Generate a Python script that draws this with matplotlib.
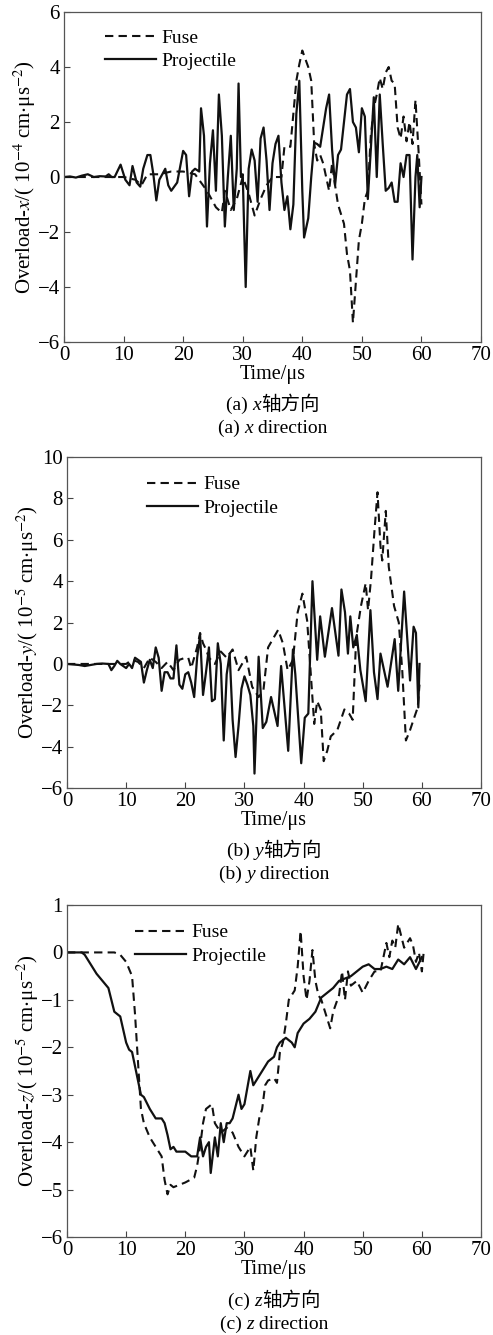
import matplotlib
matplotlib.use("Agg")
import matplotlib.pyplot as plt
from matplotlib.offsetbox import TextArea, HPacker, AnchoredOffsetbox
import numpy as np

plt.rcParams['font.family'] = ['Liberation Serif', 'Noto Sans CJK SC']
plt.rcParams['mathtext.fontset'] = 'stix'

# time (us), overload
a_proj = np.array([
    (0, 0), (1, 0.02), (2, -0.02), (3, 0.05), (4, 0.1), (5, 0), (6, 0.03), (7, 0.02), (7.5, 0.1),
    (8, 0), (8.5, 0), (9.5, 0.45), (10.3, -0.1), (11, -0.3), (11.5, 0.4), (12.2, -0.2), (12.8, -0.35),
    (13.3, 0.3), (14, 0.8), (14.5, 0.8), (15, 0.1), (15.5, -0.85), (16, -0.1), (17, 0.3), (17.5, -0.3),
    (18, -0.5), (19, -0.2), (20, 0.95), (20.5, 0.8), (21, -0.7), (21.5, 0.2), (22, 0.3), (22.7, 0.2),
    (23, 2.5), (23.5, 1.5), (24, -1.8), (24.5, 0.5), (25, 1.7), (25.5, -0.5), (26, 3.0), (26.5, 1.5),
    (27, -1.8), (27.5, 0.0), (28, 1.5), (28.5, -1.2), (29, 0.3), (29.3, 3.4), (29.7, 0.0), (30, 0.1),
    (30.5, -4.0), (31, 0.3), (31.5, 1.0), (32, 0.6), (32.5, -0.9), (33, 1.4), (33.5, 1.8), (34, 0.6),
    (34.5, -1.2), (35, 0.5), (35.5, 1.2), (36, 1.5), (36.5, -0.2), (37, -1.2), (37.5, -0.7), (38, -1.9),
    (38.5, -1.0), (39, 2.3), (39.5, 3.5), (40, -0.5), (40.3, -2.2), (41, -1.5), (41.5, 0.0), (42, 1.25),
    (42.5, 1.2), (43, 1.1), (44, 2.5), (44.5, 3.0), (45, 1.0), (45.5, -0.3), (46, 0.8), (46.5, 1.0),
    (47, 2.0), (47.5, 3.0), (48, 3.2), (48.5, 2.0), (49, 1.8), (49.5, 0.9), (50, 2.5), (50.5, 2.2),
    (51, -0.8), (51.5, 1.0), (52, 2.9), (52.5, 0.0), (53, 3.0), (53.5, 1.2), (54, -0.5), (54.5, -0.4),
    (55, -0.2), (55.5, -0.9), (56, -0.9), (56.5, 0.5), (57, 0.0), (57.5, 0.8), (58, 0.8), (58.5, -3.0),
    (59, 0.0), (59.3, 0.8), (59.7, -1.1), (60, 0.0)])
a_fuse = np.array([
    (0, 0), (5, 0), (10, 0), (12, -0.1), (13, -0.3), (14, 0.1), (16, 0.1), (18, 0.2), (20, 0.2),
    (22, 0.1), (23, -0.2), (24, -0.5), (25.5, -1.1), (26.5, -1.3), (27, -0.5), (28, -1.2), (29, -0.8),
    (30, 0.0), (31, -0.6), (32, -1.4), (33, -0.8), (34, -0.3), (35, 0.0), (36.5, 0.0), (37, 1.1),
    (38, 1.1), (39, 3.5), (39.5, 4.1), (40, 4.6), (40.5, 4.3), (41, 4.0), (41.5, 3.5), (42, 1.2),
    (42.5, 0.6), (43, 0.8), (43.5, 0.5), (44, 0.0), (44.5, -0.5), (45, 0.5), (45.5, -0.3), (46, -1.0),
    (47, -1.7), (47.5, -2.8), (48, -3.4), (48.5, -5.3), (49, -3.8), (49.5, -2.3), (50, -1.7),
    (50.5, -0.8), (51, -0.5), (51.5, 1.5), (52, 2.5), (52.5, 3.0), (53, 3.6), (53.5, 3.2), (54, 3.8),
    (54.5, 4.0), (55, 3.5), (55.5, 3.4), (56, 1.8), (56.5, 1.4), (57, 2.2), (57.5, 1.3), (58, 2.0),
    (58.5, 1.2), (59, 2.8), (59.5, 1.0), (60, -1.0)])

b_proj = np.array([
    (0, 0), (2, -0.05), (3, -0.1), (5, 0.0), (6, 0.02), (7, 0), (7.5, -0.3), (8, -0.1), (8.5, 0.15),
    (9, 0.0), (10, -0.2), (10.5, 0.0), (11, -0.2), (11.5, 0.3), (12, 0.2), (12.5, 0.1), (13, -0.9),
    (13.5, -0.3), (14, 0.2), (14.5, -0.2), (15, 0.8), (15.5, 0.3), (16, -1.3), (16.5, -0.4), (17, -0.4),
    (17.5, -0.7), (18, -0.7), (18.5, 0.9), (19, -1.0), (19.5, -1.2), (20, -0.5), (20.5, -0.4),
    (21, -0.9), (21.5, -1.6), (22, 0.3), (22.5, 1.4), (23, -1.5), (23.5, -0.4), (24, 0.8), (24.5, -1.8),
    (25, -1.7), (25.5, 1.0), (26, 0.0), (26.5, -3.7), (27, -0.5), (27.5, 0.5), (28, -2.7), (28.5, -4.5),
    (29, -3.0), (29.5, -1.2), (30, -0.6), (30.5, -1.0), (31, -1.5), (31.5, -3.0), (31.7, -5.3),
    (32.4, 0.35), (33.1, -3.1), (33.7, -2.8), (34.5, -1.6), (35.6, -3.0), (36.2, -0.1), (37.4, -4.2),
    (38.2, 0.7), (38.6, -0.5), (39.6, -4.8), (40.2, -2.6), (40.8, -2.4), (41.5, 4.0), (42.3, 0.2),
    (42.8, 2.3), (43.6, 0.35), (44.8, 2.7), (45.9, 0.4), (46.4, 3.6), (47.0, 2.5), (47.5, 0.5),
    (47.9, 2.3), (48.4, 0.8), (49.0, 1.4), (49.6, -0.3), (50.5, -1.8), (51.3, 2.6), (51.9, -0.4),
    (52.5, -1.7), (53.0, 0.5), (54.2, -1.1), (55.4, 1.2), (56.0, -1.3), (57.0, 3.5), (58.0, -0.8),
    (58.6, 1.8), (59.0, 1.5), (59.4, -2.1), (59.6, 0.0)])
b_fuse = np.array([
    (0, 0), (5, 0), (10, 0), (11, 0.2), (12, 0.1), (13, -0.2), (14, 0.3), (15, 0.1), (16, -0.2),
    (17, 0.1), (18, -0.3), (19, 0.2), (20, 0.3), (20.5, 0.3), (21, -0.2), (22, 0.8), (22.5, 1.5),
    (23, 1.0), (23.5, 0.7), (24, 0.3), (25, 0.0), (26, 0.6), (27, 0.3), (28, 0.7), (29, -0.3),
    (30.3, 0.35), (31.3, -1.1), (32.4, -1.6), (33.2, -1.3), (34.0, 0.8), (35.7, 1.65), (36.5, 1.0),
    (37.3, -0.3), (38.2, 0.2), (39.0, 2.5), (39.8, 3.4), (40.6, 2.1), (41.2, -0.4), (41.8, -2.9),
    (42.3, -1.8), (42.9, -2.2), (43.4, -4.7), (44.0, -4.2), (44.6, -3.5), (45.7, -3.2), (46.9, -2.2),
    (47.7, -2.4), (48.3, -2.7), (48.9, 1.3), (49.7, 2.8), (50.5, 3.9), (50.9, 2.6), (51.4, 4.1),
    (52.0, 6.5), (52.5, 8.3), (53.0, 5.7), (53.3, 5.0), (53.9, 7.4), (54.4, 4.7), (55.3, 2.8),
    (56.1, 2.0), (56.7, -0.4), (57.3, -3.7), (58.0, -3.2), (58.7, -2.6), (59.3, -2.1), (59.6, -1.0)])

c_proj = np.array([
    (0, 0), (2.5, 0), (3, -0.05), (4, -0.25), (5, -0.45), (6, -0.6), (7, -0.75), (7.5, -1.0),
    (8, -1.25), (9, -1.35), (10, -1.9), (10.5, -2.05), (11, -2.1), (12, -2.7), (12.5, -3.0),
    (13, -3.05), (14, -3.3), (15, -3.5), (16, -3.5), (16.5, -3.6), (17, -3.85), (17.5, -4.15),
    (18, -4.1), (18.5, -4.2), (19, -4.2), (20, -4.2), (21, -4.3), (22, -4.3), (22.5, -3.9), (23, -4.3),
    (23.5, -4.1), (24, -4.0), (24.3, -4.65), (25, -3.9), (25.5, -4.3), (26, -3.6), (26.5, -4.0),
    (27, -3.6), (27.5, -3.6), (28, -3.5), (29, -3.0), (29.5, -3.3), (30, -3.2), (31, -2.5), (31.5, -2.8),
    (32, -2.7), (33, -2.5), (34, -2.3), (35, -2.2), (35.5, -2.0), (36, -1.9), (37, -1.8), (38, -1.9),
    (38.5, -2.0), (39, -1.7), (40, -1.5), (41, -1.4), (42, -1.25), (43, -0.95), (44, -0.85),
    (45, -0.75), (46, -0.6), (47, -0.55), (48, -0.5), (49, -0.4), (50, -0.3), (51, -0.25), (52, -0.35),
    (53, -0.35), (54, -0.3), (55, -0.35), (56, -0.15), (57, -0.25), (58, -0.1), (59, -0.35), (60, -0.1)])
c_fuse = np.array([
    (0, 0), (8, 0), (9, -0.05), (10, -0.2), (11, -0.5), (11.5, -1.3), (12, -2.3), (12.5, -3.3),
    (13, -3.6), (14, -3.9), (15, -4.1), (16, -4.3), (16.5, -4.8), (17, -5.1), (17.5, -4.9), (18, -4.95),
    (20, -4.85), (21.5, -4.75), (22, -4.5), (22.5, -4.1), (23, -3.6), (23.5, -3.3), (24, -3.25),
    (24.5, -3.2), (25, -3.6), (26, -3.8), (27, -3.7), (28, -3.8), (29, -4.1), (30, -4.3), (30.5, -4.2),
    (31, -4.1), (31.5, -4.6), (32, -3.9), (32.5, -3.5), (33, -3.3), (33.5, -2.8), (34, -2.7),
    (35, -2.65), (35.5, -2.75), (36, -2.1), (36.5, -1.9), (37, -1.5), (37.5, -1.0), (38, -0.9),
    (38.5, -0.8), (39, -0.3), (39.5, 0.45), (40, -0.5), (40.5, -1.0), (41, -0.6), (41.5, 0.05),
    (42, -0.6), (42.5, -0.9), (43, -1.0), (44, -1.4), (44.5, -1.6), (45, -1.25), (46, -0.9),
    (46.5, -0.4), (47, -1.0), (47.5, -0.4), (48, -0.7), (49, -0.6), (50, -0.85), (51, -0.6), (52, -0.4),
    (53, -0.4), (54, 0.2), (54.5, -0.1), (55, 0.25), (55.5, 0.1), (56, 0.6), (57, 0.1), (58, 0.3),
    (58.5, 0.15), (59, -0.2), (59.5, 0.0), (60, -0.4), (60.3, 0.0)])

panels = [
    dict(fuse=a_fuse, proj=a_proj, ylim=(-6, 6), yticks=np.arange(-6, 7, 2), exp='-4', comp='x',
         tag='a', rect=[0.1298, 0.7438, 0.8459, 0.2472], leg=(0.09, 0.96)),
    dict(fuse=b_fuse, proj=b_proj, ylim=(-6, 10), yticks=np.arange(-6, 11, 2), exp='-5', comp='y',
         tag='b', rect=[0.1359, 0.4097, 0.8398, 0.2479], leg=(0.185, 0.955)),
    dict(fuse=c_fuse, proj=c_proj, ylim=(-6, 1), yticks=np.arange(-6, 2, 1), exp='-5', comp='z',
         tag='c', rect=[0.1359, 0.0734, 0.8398, 0.2487], leg=(0.155, 0.955)),
]


def caption(ax, parts, y):
    # mixed serif / italic / CJK pieces packed in one row
    boxes = [TextArea(s, textprops=dict(fontsize=14, **kw)) for s, kw in parts]
    row = HPacker(children=boxes, align='baseline', pad=0, sep=0)
    anc = AnchoredOffsetbox(loc='center', child=row, pad=0, frameon=False,
                            bbox_to_anchor=(0.5, y), bbox_transform=ax.transAxes, borderpad=0)
    ax.add_artist(anc)


fig = plt.figure(figsize=(4.93, 13.35), dpi=100)

for p in panels:
    ax = fig.add_axes(p['rect'])
    ax.plot(p['fuse'][:, 0], p['fuse'][:, 1], color='#111111', lw=1.5, ls=(0, (4, 2.5)), label='Fuse')
    ax.plot(p['proj'][:, 0], p['proj'][:, 1], color='#111111', lw=1.6, label='Projectile')
    ax.set_xlim(0, 70)
    ax.set_ylim(*p['ylim'])
    ax.set_xticks(np.arange(0, 71, 10))
    ax.set_yticks(p['yticks'])
    ax.tick_params(direction='in', length=4, width=0.8, labelsize=15, color='#444444', pad=3)
    for s in ax.spines.values():
        s.set_color('#555555')
        s.set_linewidth(0.9)
    ax.set_xlabel('Time/μs', fontsize=14.5, labelpad=0)
    ax.set_ylabel(r'Overload-$%s$/( 10$^{%s}$ cm$\cdot$μs$^{-2}$)' % (p['comp'], p['exp']),
                  fontsize=15, labelpad=0)
    ax.legend(loc='upper left', bbox_to_anchor=p['leg'], frameon=False, fontsize=14,
              handlelength=2.6, handletextpad=0.3, labelspacing=0.3, borderaxespad=0, borderpad=0.2)
    caption(ax, [('(%s) ' % p['tag'], {}), (p['comp'], dict(style='italic')),
                 ('轴方向', dict(family='Noto Sans CJK SC'))], -0.19)
    caption(ax, [('(%s) ' % p['tag'], {}), (p['comp'], dict(style='italic')),
                 (' direction', {})], -0.262)

fig.savefig('out.png', dpi=100, facecolor='white')
